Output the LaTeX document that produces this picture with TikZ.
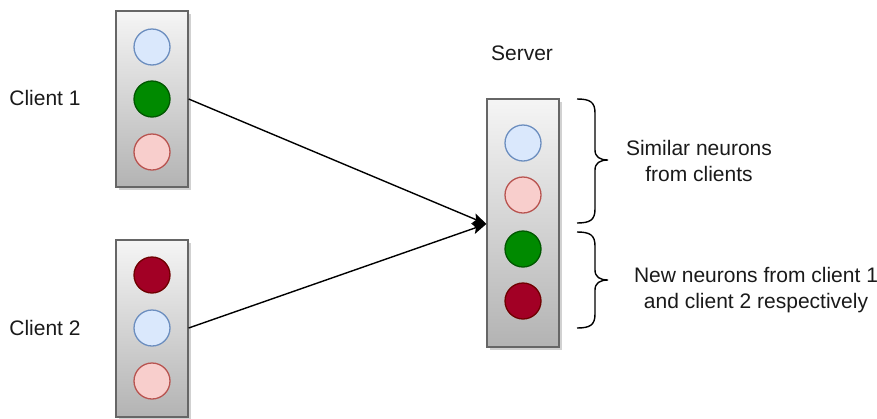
\documentclass[tikz,border=0pt]{standalone}
\usepackage{fontspec}
\setmainfont{Liberation Sans}
\usetikzlibrary{arrows.meta}
\definecolor{txt}{HTML}{1A1A1A}
\definecolor{boxtop}{HTML}{F5F5F5}
\definecolor{boxbot}{HTML}{B3B3B3}
\definecolor{boxline}{HTML}{666666}
\definecolor{bluefill}{HTML}{DAE8FC}
\definecolor{blueline}{HTML}{6C8EBF}
\definecolor{redfill}{HTML}{F8CECC}
\definecolor{redline}{HTML}{B85450}
\definecolor{greenfill}{HTML}{008A00}
\definecolor{greenline}{HTML}{005700}
\definecolor{darkfill}{HTML}{A20025}
\definecolor{darkline}{HTML}{6F0000}
\tikzset{
  lbl/.style={text=txt, font=\fontsize{21}{26}\selectfont, inner sep=0pt, align=center},
  layer/.style={draw=boxline, line width=1.3pt, top color=boxtop, bottom color=boxbot, minimum width=72pt, inner sep=0pt},
  shade/.style={fill=black, opacity=0.18, draw=none},
  neuron/.style={circle, minimum size=36pt, inner sep=0pt, line width=1.3pt},
  nblue/.style={neuron, fill=bluefill, draw=blueline},
  nred/.style={neuron, fill=redfill, draw=redline},
  ngreen/.style={neuron, fill=greenfill, draw=greenline},
  ndark/.style={neuron, fill=darkfill, draw=darkline},
  conn/.style={line width=1.4pt, -{Stealth[length=14pt,width=11pt,inset=3pt]}},
  bracestyle/.style={line width=1.4pt, draw=black}
}
\begin{document}
\begin{tikzpicture}[x=1pt,y=-1pt]
\useasboundingbox (0,0) rectangle (877,418);
% shadows
\fill[shade] (119,14) rectangle (191,190);
\fill[shade] (119,243) rectangle (191,421);
\fill[shade] (490,102) rectangle (562,350);
% boxes
\node[layer, minimum height=176pt] (c1box) at (152,99) {};
\node[layer, minimum height=177pt] (c2box) at (152,328.5) {};
\node[layer, minimum height=248pt] (sbox) at (523,223) {};
% client 1 neurons
\node[nblue] (c1a) at (152,47) {};
\node[ngreen] (c1b) at (152,99) {};
\node[nred] (c1c) at (152,152) {};
% client 2 neurons
\node[ndark] (c2a) at (152,275) {};
\node[nblue] (c2b) at (152,328) {};
\node[nred] (c2c) at (152,381) {};
% server neurons
\node[nblue] (s1) at (523,143) {};
\node[nred] (s2) at (523,195) {};
\node[ngreen] (s3) at (523,249) {};
\node[ndark] (s4) at (523,301) {};
% labels
\node[lbl] (l1) at (45,98) {Client 1};
\node[lbl] (l2) at (45,328) {Client 2};
\node[lbl] (ls) at (522,53) {Server};
\node[lbl] (t1) at (699,161) {Similar neurons\\from clients};
\node[lbl] (t2) at (756,290) {New neurons from client 1\\and client 2 respectively};
% connectors
\coordinate (tip) at (sbox.west |- 0,224);
\draw[conn] (c1box.east |- c1b) -- (tip);
\draw[conn] (c2box.east |- c2b) -- (tip);
% braces
\draw[bracestyle] (577,99) .. controls (590,99) and (595,102) .. (595,113) -- (595,150)
  .. controls (595,157) and (600,160) .. (608,160)
  .. controls (600,160) and (595,163) .. (595,170) -- (595,209)
  .. controls (595,220) and (590,223) .. (577,223);
\draw[bracestyle] (577,232) .. controls (590,232) and (595,235) .. (595,246) -- (595,270)
  .. controls (595,277) and (600,280) .. (608,280)
  .. controls (600,280) and (595,283) .. (595,290) -- (595,314)
  .. controls (595,325) and (590,328) .. (577,328);
\end{tikzpicture}
\end{document}
